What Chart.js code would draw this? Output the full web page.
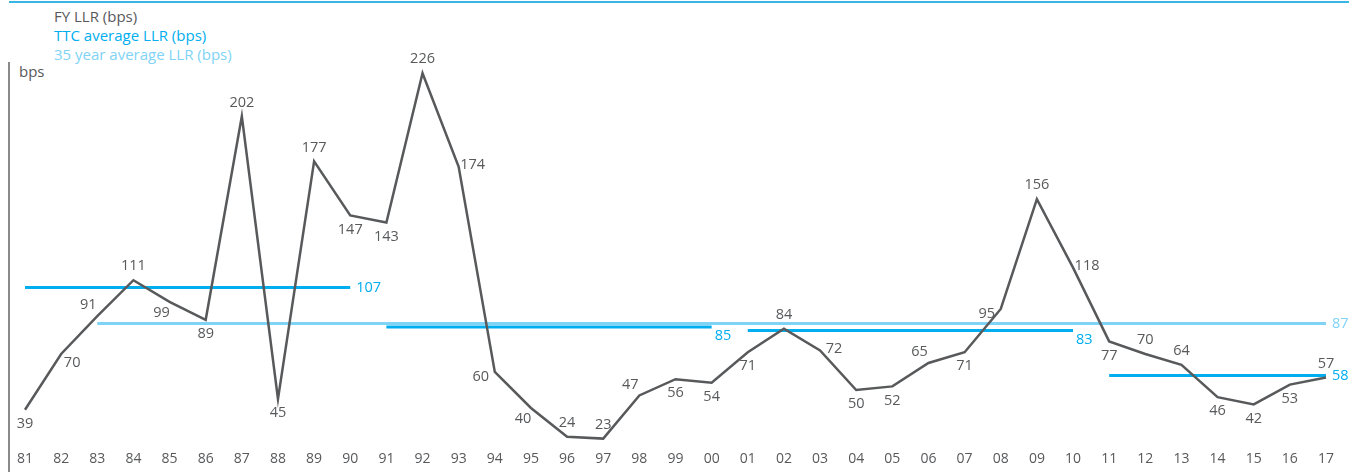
<!DOCTYPE html>
<html>
<head>
<meta charset="utf-8">
<script src="https://cdn.jsdelivr.net/npm/chart.js@4.4.1/dist/chart.umd.min.js"></script>
<style>
  html, body { margin: 0; padding: 0; background: #fff; }
  #wrap { position: relative; width: 1349px; height: 472px; overflow: hidden; font-family: "Open Sans", "Noto Sans", sans-serif; }
  #topRule { position: absolute; left: 9px; right: 0; top: 1px; height: 2px; background: #3ab6e4; }
  #axisRule { position: absolute; left: 8px; top: 62px; bottom: 0; width: 1.5px; background: #8a8a8a; }
  .legend { position: absolute; left: 54px; font-size: 15px; line-height: 19px; white-space: nowrap; }
  #unit { position: absolute; left: 19px; top: 61px; font-size: 15px; color: #58595b; }
  canvas { position: absolute; left: 0; top: 0; }
</style>
</head>
<body>
<div id="wrap">
  <div id="topRule"></div>
  <div id="axisRule"></div>
  <div class="legend" style="top:7px;color:#58595b">FY LLR (bps)</div>
  <div class="legend" style="top:26px;color:#00aeef">TTC average LLR (bps)</div>
  <div class="legend" style="top:45px;color:#7fd3f5">35 year average LLR (bps)</div>
  <div id="unit">bps</div>
  <canvas id="c" width="1349" height="472"></canvas>
</div>
<script>
// Financial years 1981–2017
const years = ['81','82','83','84','85','86','87','88','89','90','91','92','93','94','95','96','97','98','99',
               '00','01','02','03','04','05','06','07','08','09','10','11','12','13','14','15','16','17'];

// Full-year loan loss rate (bps)
const fyLLR = [39, 70, 91, 111, 99, 89, 202, 45, 177, 147, 143, 226, 174, 60, 40, 24, 23, 47, 56,
               54, 71, 84, 72, 50, 52, 65, 71, 95, 156, 118, 77, 70, 64, 46, 42, 53, 57];

// Where each FY value label sits relative to its point
const fyLabelSide = ['s','se','nw','n','sw','s','n','s','n','s','s','n','e','w','sw','n','n','nw','s',
                     's','s','n','e','s','s','nw','s','w','n','e','s','n','n','s','s','s','n'];

// Through-the-cycle averages per cycle
const ttcStart = ['81', '91', '01', '11'];
const ttcEnd   = ['90', '00', '10', '17'];
const ttcValue = [107, 85, 83, 58];
const ttcLabelSide = ['right', 'below', 'below', 'right'];

// 35 year average
const avg35Start = '83';
const avg35End = '17';
const avg35Value = 87;

const GREY = '#58595b';
const TTC_BLUE = '#00aeef';
const AVG_BLUE = '#7fd3f5';
const FONT = '"Open Sans", "Noto Sans", sans-serif';

function flatSeries(from, to, value) {
  const a = years.indexOf(from), b = years.indexOf(to);
  return years.map((_, i) => (i >= a && i <= b) ? value : null);
}

const datasets = [];
datasets.push({
  label: '35 year average LLR (bps)',
  data: flatSeries(avg35Start, avg35End, avg35Value),
  borderColor: AVG_BLUE, borderWidth: 3, pointRadius: 0, spanGaps: false, clip: false,
  avgLabel: String(avg35Value), avgSide: 'right', avgColor: AVG_BLUE, order: 3
});
ttcValue.forEach((v, k) => {
  datasets.push({
    label: 'TTC average LLR (bps)',
    data: flatSeries(ttcStart[k], ttcEnd[k], v),
    borderColor: TTC_BLUE, borderWidth: 3, pointRadius: 0, spanGaps: false, clip: false,
    avgLabel: String(v), avgSide: ttcLabelSide[k], avgColor: TTC_BLUE, order: 2
  });
});
datasets.push({
  label: 'FY LLR (bps)',
  data: fyLLR,
  borderColor: GREY, borderWidth: 2.5, pointRadius: 0, tension: 0, clip: false,
  borderJoinStyle: 'miter', isFY: true, order: 1
});

const sideOffset = {
  n: [0, -14], s: [0, 14], e: [14, -2], w: [-14, 5],
  ne: [11, -9], nw: [-9, -11], se: [11, 9], sw: [-8, 11]
};

const valueLabels = {
  id: 'valueLabels',
  afterDatasetsDraw(chart) {
    const ctx = chart.ctx;
    ctx.save();
    ctx.font = '14.5px ' + FONT;
    ctx.textBaseline = 'middle';
    chart.data.datasets.forEach((ds, di) => {
      const meta = chart.getDatasetMeta(di);
      if (ds.isFY) {
        ctx.fillStyle = GREY;
        ctx.textAlign = 'center';
        meta.data.forEach((pt, i) => {
          const off = sideOffset[fyLabelSide[i]];
          ctx.fillText(String(ds.data[i]), pt.x + off[0], pt.y + off[1]);
        });
      } else {
        let last = null;
        meta.data.forEach((pt, i) => { if (ds.data[i] !== null) last = pt; });
        if (!last) return;
        ctx.fillStyle = ds.avgColor;
        ctx.textAlign = 'left';
        if (ds.avgSide === 'below') {
          ctx.fillText(ds.avgLabel, last.x + 3, last.y + 9);
        } else {
          ctx.fillText(ds.avgLabel, last.x + 6, last.y);
        }
      }
    });
    ctx.restore();
  }
};

new Chart(document.getElementById('c'), {
  type: 'line',
  data: { labels: years, datasets },
  options: {
    responsive: false,
    animation: false,
    layout: { padding: { left: 25, right: 23, top: 48, bottom: 5 } },
    plugins: { legend: { display: false }, tooltip: { enabled: false } },
    scales: {
      x: {
        offset: false,
        grid: { display: false },
        border: { display: false },
        ticks: { color: GREY, font: { family: FONT, size: 14 }, padding: 0, maxRotation: 0, autoSkip: false }
      },
      y: {
        display: false,
        min: 21, max: 240
      }
    }
  },
  plugins: [valueLabels]
});
</script>
</body>
</html>
